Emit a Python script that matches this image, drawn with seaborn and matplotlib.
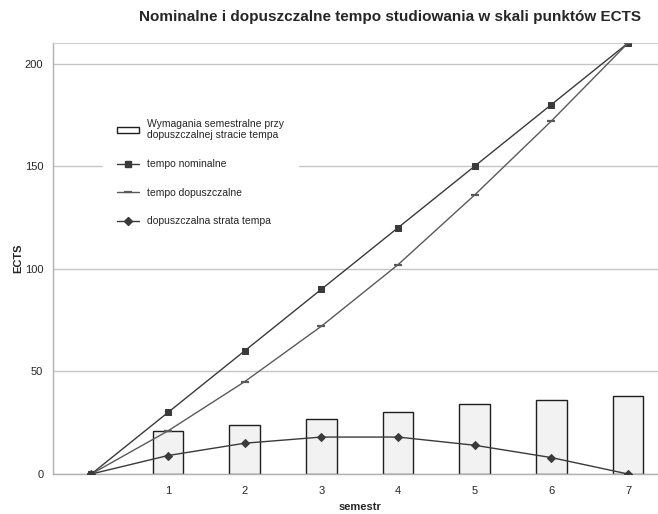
import numpy as np
import matplotlib
matplotlib.use("Agg")
import matplotlib.pyplot as plt
from matplotlib.patches import Patch
from matplotlib.lines import Line2D
import seaborn as sns

# Semesters (0 = start of studies) and cumulative ECTS
semestr = [0, 1, 2, 3, 4, 5, 6, 7]
semestr_labels = ["", "1", "2", "3", "4", "5", "6", "7"]
tempo_nominalne = [0, 30, 60, 90, 120, 150, 180, 210]
tempo_dopuszczalne = [0, 21, 45, 72, 102, 136, 172, 210]
strata_tempa = [0, 9, 15, 18, 18, 14, 8, 0]

# Per-semester requirements at the permitted pace loss
semestr_wym = [1, 2, 3, 4, 5, 6, 7]
wymagania = [21, 24, 27, 30, 34, 36, 38]

sns.set_style("white")
plt.rcParams["font.family"] = ["Liberation Sans", "DejaVu Sans"]

fig = plt.figure(figsize=(6.58, 5.14), dpi=100)
ax = fig.add_axes([53 / 658, 40 / 514, 613.4 / 658, 431 / 514])

dark = "#3a3a3a"

sns.barplot(x=semestr_wym, y=wymagania, native_scale=True, width=0.4,
            color="#f2f2f2", saturation=1, edgecolor="#1e1e1e", linewidth=1.0,
            ax=ax, zorder=2)

sns.lineplot(x=semestr, y=tempo_nominalne, ax=ax, color=dark, linewidth=1.0,
             marker="s", markersize=5, markeredgecolor=dark, markerfacecolor=dark,
             zorder=4)
sns.lineplot(x=semestr, y=tempo_dopuszczalne, ax=ax, color="#5a5a5a", linewidth=1.0,
             marker="_", markersize=6, markeredgewidth=1.6, markeredgecolor="#5a5a5a",
             zorder=4)
sns.lineplot(x=semestr, y=strata_tempa, ax=ax, color=dark, linewidth=1.0,
             marker="D", markersize=4, markeredgecolor=dark, markerfacecolor=dark,
             zorder=4)

ax.set_xlim(-0.5, 7.5)
ax.set_ylim(0, 210)
ax.set_yticks([0, 50, 100, 150, 200])
ax.set_yticklabels(["0", "50", "100", "150", "200"], fontsize=8)
ax.set_xticks(semestr)
ax.set_xticklabels(semestr_labels, fontsize=8)
ax.set_xticks(np.arange(0.5, 7.0, 1.0), minor=True)
ax.tick_params(axis="x", which="major", length=0, pad=9)
ax.tick_params(axis="x", which="minor", length=4, width=1, color="#b0b0b0", direction="out")
ax.tick_params(axis="y", length=4, width=1, color="#b0b0b0", direction="out", pad=3)

ax.set_axisbelow(True)
ax.yaxis.grid(True, color="#c6c6c6", linewidth=1.0)
ax.xaxis.grid(False)
for side in ("left", "bottom"):
    ax.spines[side].set_color("#b0b0b0")
    ax.spines[side].set_linewidth(1.0)
ax.spines["top"].set_color("#d0d0d0")
ax.spines["right"].set_visible(False)

ax.set_ylabel("ECTS", fontsize=8, fontweight="bold", labelpad=1)
ax.set_xlabel("semestr", fontsize=8, fontweight="bold", labelpad=4)

handles = [
    Patch(facecolor="white", edgecolor="#1e1e1e", linewidth=1.0),
    Line2D([], [], color=dark, lw=1.0, marker="s", markersize=5, markerfacecolor=dark),
    Line2D([], [], color="#5a5a5a", lw=1.0, marker="_", markersize=6, markeredgewidth=1.6),
    Line2D([], [], color=dark, lw=1.0, marker="D", markersize=4, markerfacecolor=dark),
]
labels = [
    "Wymagania semestralne przy\ndopuszczalnej stracie tempa",
    "tempo nominalne",
    "tempo dopuszczalne",
    "dopuszczalna strata tempa",
]
leg = ax.legend(handles, labels, loc="upper left",
                bbox_to_anchor=(103 / 658, 1 - 105 / 514),
                bbox_transform=fig.transFigure, fontsize=7.5,
                frameon=True, fancybox=False, framealpha=1,
                facecolor="white", edgecolor="white",
                handlelength=2.2, handleheight=0.5, handletextpad=0.75,
                labelspacing=1.8, borderpad=1.3, borderaxespad=0)
leg.set_zorder(5)

fig.text(390 / 658, 1 - 17 / 514,
         "Nominalne i dopuszczalne tempo studiowania w skali punktów ECTS",
         ha="center", va="center", fontsize=11, fontweight="bold")

fig.savefig("out.png", dpi=100)
